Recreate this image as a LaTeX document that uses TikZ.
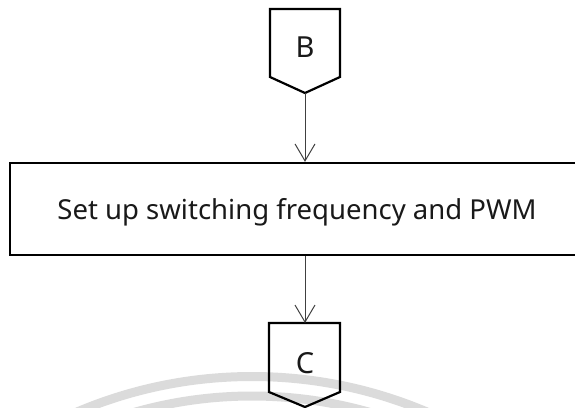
\documentclass[tikz,border=0pt]{standalone}
\usepackage{fontspec}
\setmainfont{Noto Sans}
\usetikzlibrary{arrows.meta}
\begin{document}
\begin{tikzpicture}[x=1pt,y=-1pt,
  frame/.style={draw=black,line width=2.2pt,line join=miter},
  flow/.style={draw=black!75,line width=1pt,-{Straight Barb[length=17pt,width=20pt,line width=1pt]}},
  txt/.style={font=\fontsize{27.5}{32}\selectfont,inner sep=0pt,text=black!90},
  label/.style={font=\fontsize{29}{34}\selectfont,inner sep=0pt,text=black!90},
  band/.style={draw=black!14,line width=9pt}]
\useasboundingbox (0,0) rectangle (575,407);
% faint background arcs
\draw[band] (252,824) circle[radius=447.5pt];
\draw[band] (252,824) circle[radius=428pt];
% off-page connector B
\draw[frame] (270,9) -- (340,9) -- (340,77) -- (305,93) -- (270,77) -- cycle;
\node[label] (B) at (305,47.5) {B};
\coordinate (Btip) at (305,93);
% process box
\node[frame,minimum width=575,minimum height=92,inner sep=0pt] (box) at (297.5,209) {};
\node[txt,anchor=base] (step1) at (297,219) {Set up switching frequency and PWM};
% off-page connector C
\draw[frame] (269,323) -- (340,323) -- (340,392) -- (305,407) -- (269,392) -- cycle;
\node[label] (C) at (305,363) {C};
\coordinate (Ctop) at (305,323);
% flow lines
\draw[flow] (Btip) -- (Btip |- box.north);
\draw[flow] (Ctop |- box.south) -- (Ctop);
\end{tikzpicture}
\end{document}
